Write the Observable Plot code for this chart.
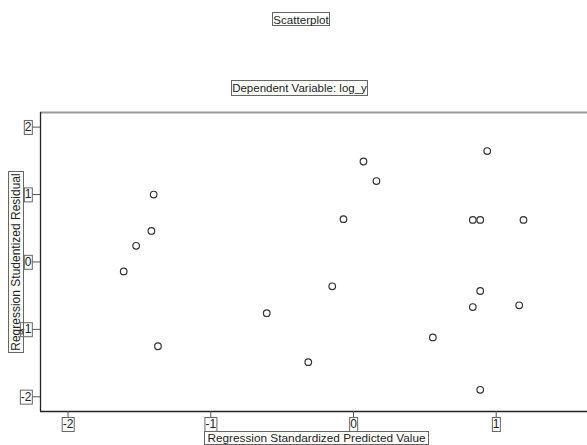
<!DOCTYPE html>
<html>
<head>
<meta charset="utf-8">
<script src="https://cdn.jsdelivr.net/npm/d3@7"></script>
<script src="https://cdn.jsdelivr.net/npm/@observablehq/plot@0.6"></script>
<style>
  html, body { margin: 0; padding: 0; background: #fff; }
  #wrap { position: relative; width: 587px; height: 445px; overflow: hidden; background: #fff;
          font-family: "Liberation Sans", Arial, sans-serif; }
  #chart { position: absolute; left: 0; top: 0; width: 640px; }
  #chart svg { max-width: none !important; }
  .lbl { position: absolute; box-sizing: border-box; border: 1px solid #666; color: #222;
         font-size: 12px; line-height: 14px; white-space: nowrap; overflow: visible; padding: 0;
         text-align: center; background: transparent; }
</style>
</head>
<body>
<div id="wrap">
  <div id="chart"></div>
  <div class="lbl" id="t1" style="left:272px; top:12px; width:58px; height:14px; font-size:11.6px; line-height:13px;">Scatterplot</div>
  <div class="lbl" id="t2" style="left:231px; top:80px; width:137px; height:16px; line-height:15px; font-size:11.5px;">Dependent Variable: log_y</div>
  <div class="lbl" id="ty" style="left:-75px; top:254px; width:182px; height:16px; line-height:15px; transform: rotate(-90deg);">Regression Studentized Residual</div>
  <div class="lbl" id="tx" style="left:204px; top:431px; width:225px; height:14px; line-height:13px; font-size:11.8px;">Regression Standardized Predicted Value</div>
</div>
<script>
// Data
const predicted = [-1.40, -1.416, -1.523, -1.61, -1.37, -0.608, 0.937, 0.070, 0.161, -0.070,
                   0.836, 0.888, 1.191, -0.149, 0.888, 0.836, 1.161, 0.556, -0.317, 0.888];
const residual  = [1.00, 0.46, 0.24, -0.14, -1.25, -0.76, 1.645, 1.49, 1.20, 0.635,
                   0.624, 0.624, 0.624, -0.361, -0.431, -0.669, -0.643, -1.119, -1.486, -1.896];
const xTicks = [-2, -1, 0, 1];
const yTicks = [-2, -1, 0, 1, 2];
const xDomain = [-2.193, 2.011];
const yDomain = [-2.218, 2.217];

const data = predicted.map((x, i) => ({x, y: residual[i]}));
const fmt = d => String(d);

const chart = Plot.plot({
  width: 640,
  height: 445,
  marginLeft: 40,
  marginRight: 0,
  marginTop: 112,
  marginBottom: 34,
  style: {fontFamily: '"Liberation Sans", Arial, sans-serif', fontSize: "12px", color: "#222", background: "transparent", maxWidth: "none"},
  x: {domain: xDomain},
  y: {domain: yDomain},
  marks: [
    Plot.ruleY([yDomain[1]], {stroke: "#999", strokeWidth: 2}),
    Plot.ruleY([yDomain[0]], {stroke: "#222", strokeWidth: 1.3}),
    Plot.ruleX([xDomain[0]], {stroke: "#222", strokeWidth: 1.3}),
    Plot.axisX({ticks: xTicks, tickSize: 7, tickPadding: 1, tickFormat: fmt, stroke: "#555", label: null, fontSize: 12}),
    Plot.axisY({ticks: yTicks, tickSize: 8, tickPadding: 1, tickFormat: fmt, stroke: "#555", label: null, fontSize: 12}),
    Plot.dot(data, {x: "x", y: "y", r: 3.3, stroke: "#333", strokeWidth: 1.2, fill: "none"})
  ]
});
chart.style.maxWidth = "none";
document.getElementById("chart").appendChild(chart);

// draw boxes round the tick labels, as in the reference
const svg = d3.select(chart);
svg.selectAll('g[aria-label$="tick label"] text').each(function() {
  const b = this.getBBox();
  const t = this.getAttribute("transform");
  d3.select(this.parentNode).insert("rect", () => this)
    .attr("x", b.x - 0.5).attr("y", b.y + 0.5)
    .attr("width", b.width + 1).attr("height", b.height)
    .attr("transform", t)
    .attr("fill", "none").attr("stroke", "#666").attr("stroke-width", 1);
});
</script>
</body>
</html>
